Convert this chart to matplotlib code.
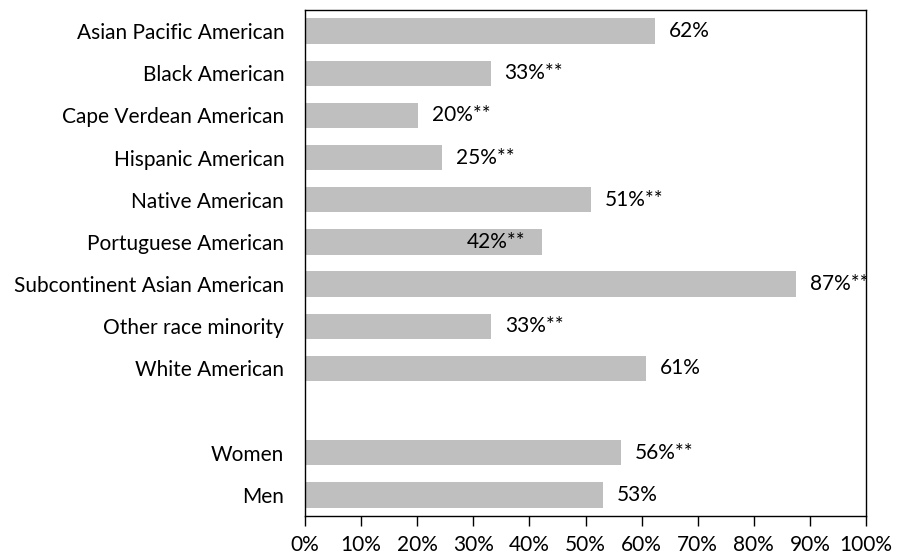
import matplotlib
matplotlib.use("Agg")
import matplotlib.pyplot as plt
from matplotlib.ticker import FixedLocator

plt.rcParams['font.family'] = ['Lato', 'DejaVu Sans']

categories = ["Asian Pacific American", "Black American", "Cape Verdean American",
              "Hispanic American", "Native American", "Portuguese American",
              "Subcontinent Asian American", "Other race minority", "White American",
              "", "Women", "Men"]
values = [62.3, 33.1, 20.1, 24.5, 51.0, 42.2, 87.5, 33.2, 60.8, None, 56.4, 53.1]
labels = ["62%", "33%**", "20%**", "25%**", "51%**", "42%**", "87%**", "33%**",
          "61%", "", "56%**", "53%"]
inside = [False, False, False, False, False, True, False, False, False, False, False, False]
xticks = [0, 10, 20, 30, 40, 50, 60, 70, 80, 90, 100]
xticklabels = ["0%", "10%", "20%", "30%", "40%", "50%", "60%", "70%", "80%", "90%", "100%"]

FS = 15

fig = plt.figure(figsize=(9.06, 5.56), dpi=100)
ax = fig.add_axes([305/906, 40/556, (866-305)/906, (516-10)/556])

ypos = list(range(len(categories)))
for y, v, lab, ins in zip(ypos, values, labels, inside):
    if v is None:
        continue
    ax.barh(y, v, height=0.6, color="#BFBFBF", edgecolor="none")
    if ins:
        ax.annotate(lab, xy=(v, y), xytext=(-12, 0), textcoords="offset points",
                    ha="right", va="center", fontsize=FS, color="#000000")
    else:
        ax.annotate(lab, xy=(v, y), xytext=(10, 0), textcoords="offset points",
                    ha="left", va="center", fontsize=FS, color="#000000",
                    annotation_clip=False)

ax.set_xlim(0, 100)
ax.set_ylim(len(categories) - 0.5, -0.5)
ax.set_yticks(ypos)
ax.set_yticklabels(categories, fontsize=FS)
ax.tick_params(axis='y', length=0, pad=15)
ax.xaxis.set_major_locator(FixedLocator(xticks))
ax.set_xticklabels(xticklabels, fontsize=FS)
ax.tick_params(axis='x', direction='out', length=7, width=1, pad=7)
for s in ax.spines.values():
    s.set_color("black")
    s.set_linewidth(1)

fig.savefig("out.png", dpi=100)
